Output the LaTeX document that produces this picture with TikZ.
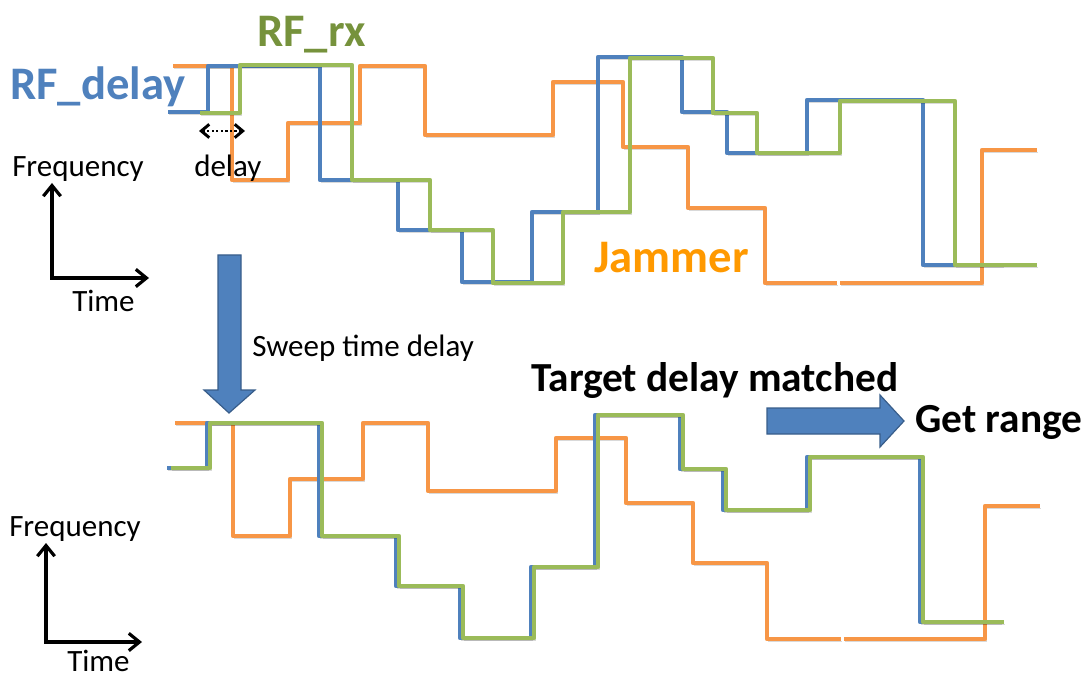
\documentclass[tikz,border=0pt]{standalone}
\usepackage{fontspec}
\setmainfont{Carlito}
\usetikzlibrary{arrows.meta}
\definecolor{jamline}{HTML}{F79646}
\definecolor{delline}{HTML}{4F81BD}
\definecolor{rxline}{HTML}{9BBB59}
\definecolor{deltext}{HTML}{4F81BD}
\definecolor{rxtext}{HTML}{76923C}
\definecolor{jamtext}{HTML}{FF9900}
\definecolor{bigedge}{HTML}{385D8A}

\tikzset{
  trace/.style={line width=3.4pt, line join=round,
    preaction={draw=black, draw opacity=0.15,
      transform canvas={xshift=0.8pt,yshift=-1.5pt}}},
  jam/.style={trace, draw=jamline},
  del/.style={trace, draw=delline},
  rx/.style={trace, draw=rxline},
  axisline/.style={line width=2.4pt, black,
    {Straight Barb[length=8pt,width=13pt,line width=2.4pt]}-{Straight Barb[length=8pt,width=13pt,line width=2.4pt]}},
  delayarrow/.style={line width=2.2pt, black, dash pattern=on 1.6pt off 1.8pt,
    {Straight Barb[length=6pt,width=10pt,line width=2.2pt]}-{Straight Barb[length=6pt,width=10pt,line width=2.2pt]}},
  bigarrow/.style={fill=delline, draw=bigedge, line width=0.9pt, line join=miter},
  lbl/.style={inner sep=0pt, anchor=base west, font=\fontsize{23.25}{28}\selectfont},
  biglbl/.style={inner sep=0pt, anchor=base west, font=\fontsize{35}{42}\selectfont\bfseries},
  midlbl/.style={inner sep=0pt, anchor=base west, font=\fontsize{31}{37}\selectfont\bfseries}
}

\begin{document}
\begin{tikzpicture}[x=0.75pt,y=-0.75pt]
\useasboundingbox (0,0) rectangle (1089,677);

% ---------- upper panel: hopping patterns before alignment ----------
\draw[jam] (173,66) -- (232,66) -- (232,180) -- (288,180) -- (288,123) -- (360,123)
  -- (360,66) -- (425,66) -- (425,135) -- (553,135) -- (553,82) -- (623,82)
  -- (623,147) -- (688,147) -- (688,208) -- (765,208) -- (765,283) -- (837,283);
\draw[jam] (840,283) -- (982,283) -- (982,150) -- (1037,150);

\draw[del] (168,112) -- (208,112) -- (208,66) -- (320,66) -- (320,180) -- (398,180)
  -- (398,230) -- (462,230) -- (462,282) -- (532,282) -- (532,212) -- (598,212)
  -- (598,57) -- (682,57) -- (682,112) -- (727,112) -- (727,153) -- (807,153)
  -- (807,100) -- (923,100) -- (923,265) -- (1003,265);

\draw[rx] (200,113) -- (240,113) -- (240,65) -- (352,65) -- (352,180) -- (430,180)
  -- (430,230) -- (493,230) -- (493,283) -- (563,283) -- (563,212) -- (630,212)
  -- (630,58) -- (713,58) -- (713,113) -- (757,113) -- (757,153) -- (840,153)
  -- (840,101) -- (955,101) -- (955,265) -- (1037,265);

% delay between the two patterns
\coordinate (dl) at (199,131);
\coordinate (dr) at (245,131);
\draw[delayarrow] (dl) -- (dr);
\node[lbl] (delaylbl) at (194,177) {delay};

% labels of the traces
\node[biglbl, text=deltext] (rfdelay) at (10,100) {RF\_delay};
\node[biglbl, text=rxtext] (rfrx) at (257,47) {RF\_rx};
\node[biglbl, text=jamtext] (jammer) at (594,273) {Jammer};

% axes of the upper panel
\coordinate (fa) at (52,183);
\coordinate (ta) at (149,278);
\draw[axisline] (fa) |- (ta);
\node[lbl] (freqa) at (12,177) {Frequency};
\node[lbl] (timea) at (72,311) {Time};

% ---------- sweep arrow ----------
\draw[bigarrow] (218,255) -- (241,255) -- (241,390) -- (255,390) -- (229,413)
  -- (204,390) -- (218,390) -- cycle;
\node[lbl] (sweep) at (252,356) {Sweep time delay};

% ---------- lower panel: delay matched ----------
\draw[jam] (175,423) -- (233,423) -- (233,536) -- (290,536) -- (290,479) -- (363,479)
  -- (363,423) -- (428,423) -- (428,491) -- (556,491) -- (556,438) -- (626,438)
  -- (626,503) -- (693,503) -- (693,563) -- (767,563) -- (767,639) -- (841,639);
\draw[jam] (844,639) -- (985,639) -- (985,506) -- (1040,506);

\draw[del] (167,468) -- (207,468) -- (207,423) -- (319,423) -- (319,536) -- (396,536)
  -- (396,586) -- (460,586) -- (460,638) -- (531,638) -- (531,567) -- (595,567)
  -- (595,415) -- (680,415) -- (680,469) -- (723,469) -- (723,510) -- (807,510)
  -- (807,457) -- (920,457) -- (920,622) -- (1001,622);

\draw[rx] (171,468) -- (210,468) -- (210,423) -- (322,423) -- (322,536) -- (399,536)
  -- (399,586) -- (463,586) -- (463,638) -- (534,638) -- (534,567) -- (598,567)
  -- (598,415) -- (683,415) -- (683,469) -- (726,469) -- (726,510) -- (810,510)
  -- (810,457) -- (923,457) -- (923,622) -- (1004,622);

% axes of the lower panel
\coordinate (fb) at (46,543);
\coordinate (tb) at (142,642);
\draw[axisline] (fb) |- (tb);
\node[lbl] (freqb) at (9,536) {Frequency};
\node[lbl] (timeb) at (67,671) {Time};

% ---------- result ----------
\node[midlbl] (matched) at (531,391) {Target delay matched};
\draw[bigarrow] (767,408) -- (880,408) -- (880,395) -- (904,421) -- (880,447)
  -- (880,434) -- (767,434) -- cycle;
\node[midlbl] (range) at (915,432) {Get range};
\end{tikzpicture}
\end{document}
